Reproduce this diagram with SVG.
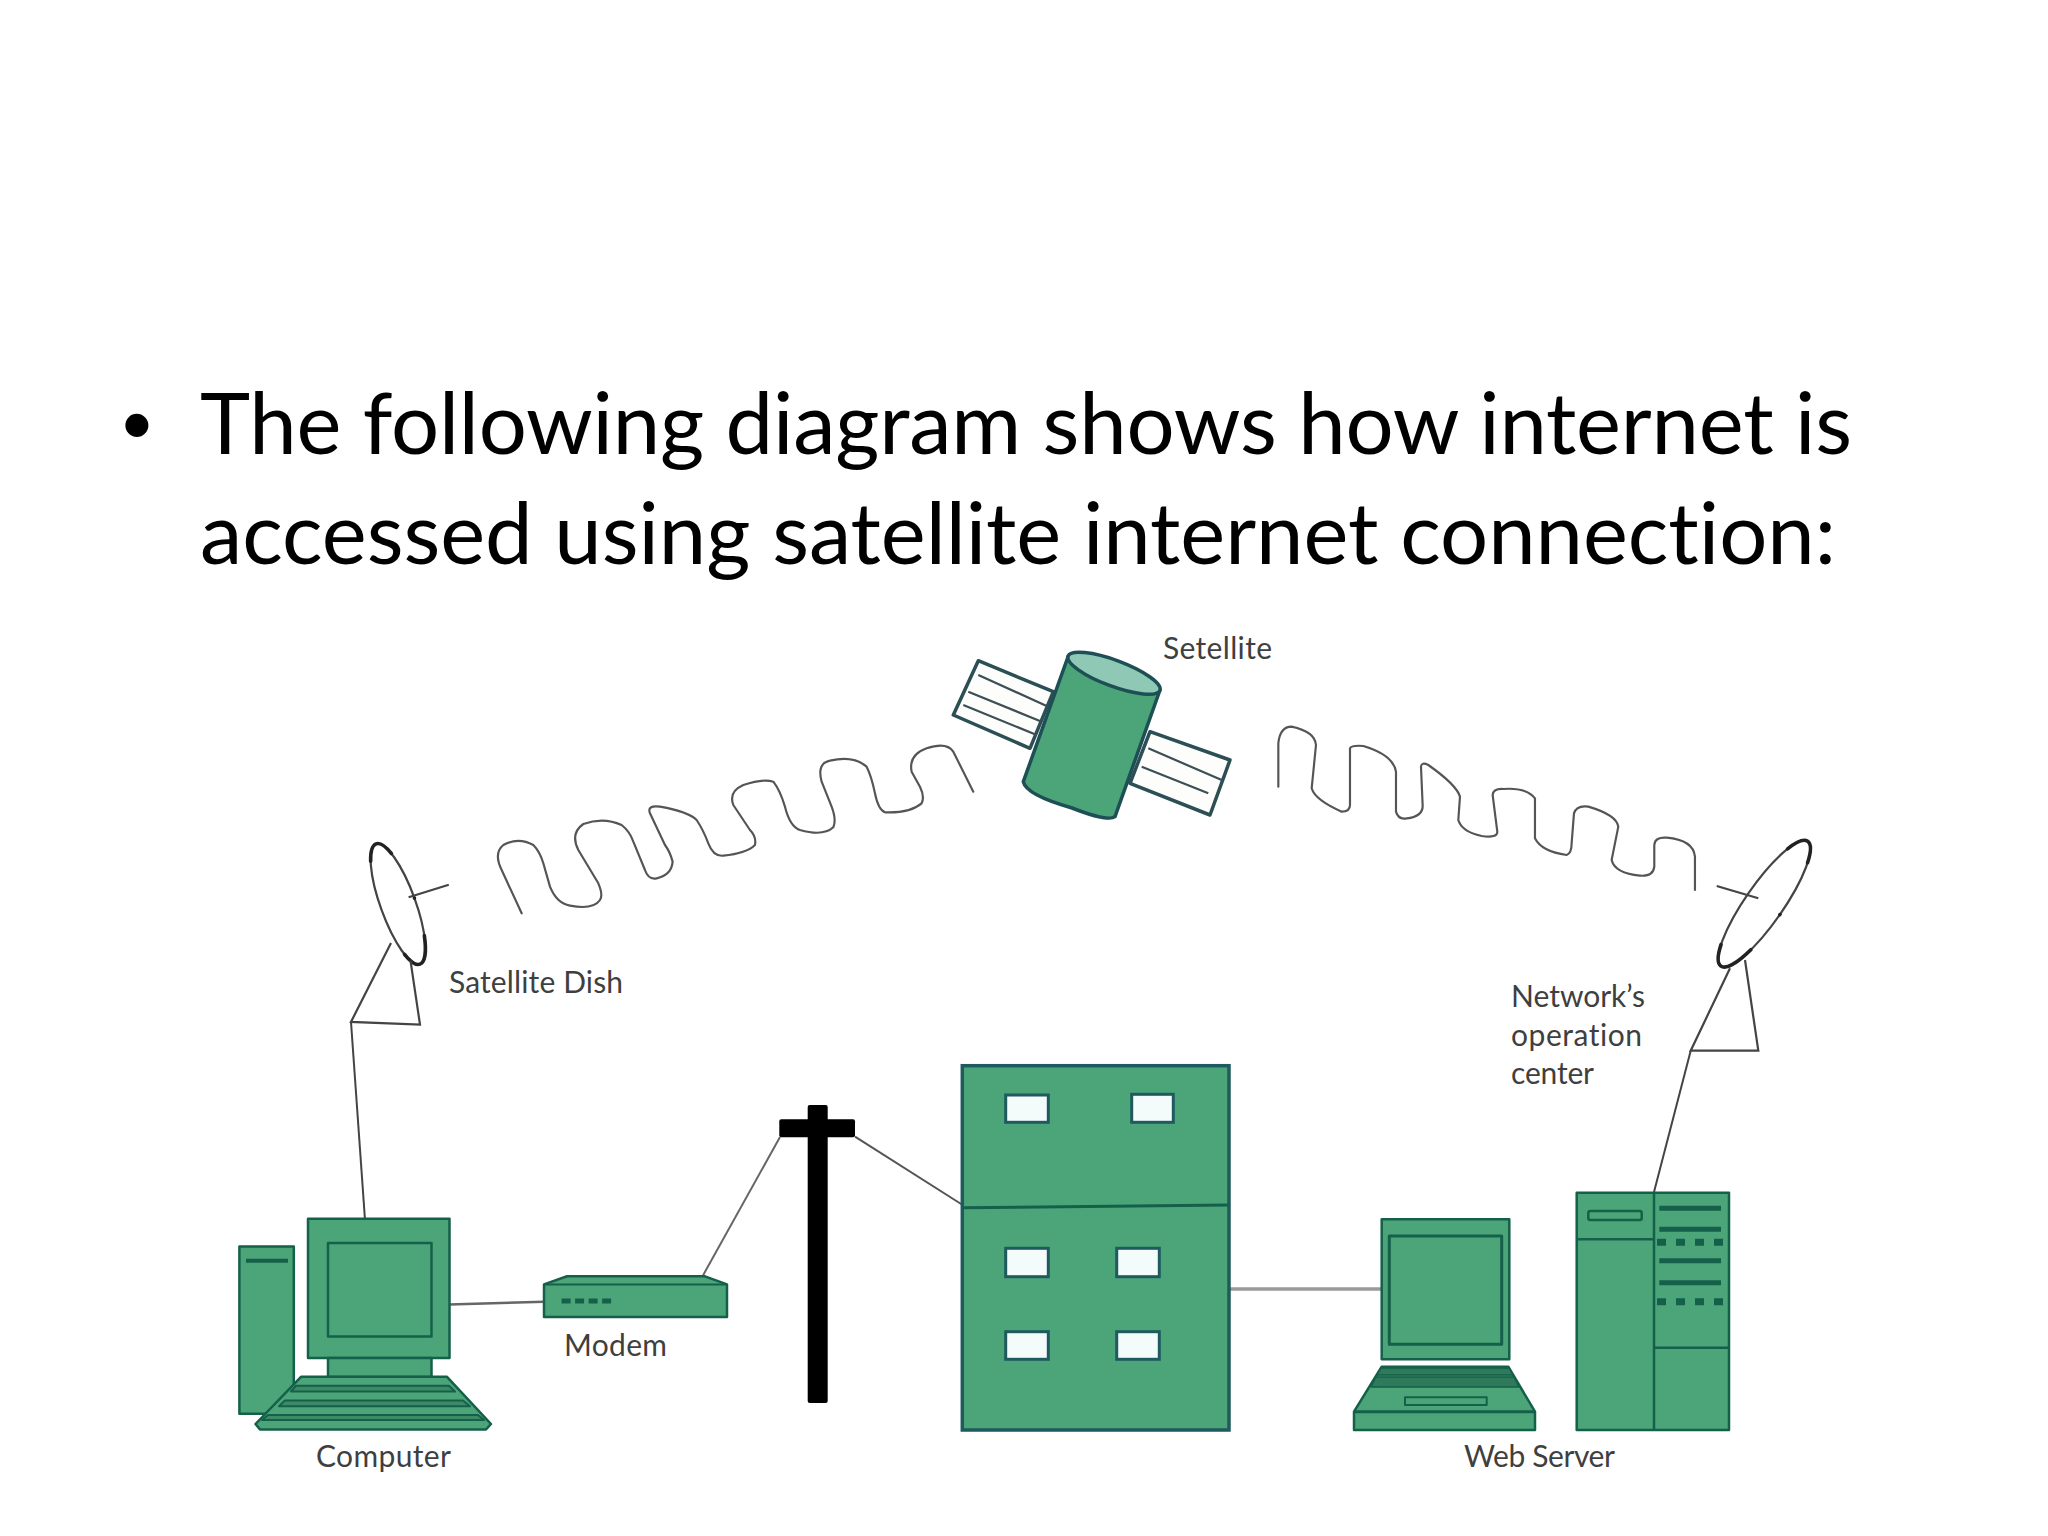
<svg xmlns="http://www.w3.org/2000/svg" width="2048" height="1536" viewBox="0 0 2048 1536">
<style>
text{font-variant-ligatures:none}
.h{font-family:Lato,"Liberation Sans",sans-serif;font-size:85px;fill:#000}
.b{font-family:"Liberation Sans",sans-serif;font-size:85px;fill:#000}
.l{font-family:Lato,"Liberation Sans",sans-serif;font-size:30px;fill:#3f3f3f}
.g{fill:#4ca578;stroke:#14604a;stroke-width:2.5;stroke-linejoin:round}
.bd{fill:#4ca578;stroke:#1f5a5f;stroke-width:3.5}
.win{fill:#f3fbfb;stroke:#1f5a5f;stroke-width:3}
.d{fill:none;stroke:#14604a;stroke-width:3}
.w{fill:none;stroke:#555;stroke-width:6.500;stroke-linejoin:round;stroke-linecap:round}
.c{fill:none;stroke:#444;stroke-width:2}
.dish{fill:none;stroke:#444;stroke-width:2.200}
.acc{fill:none;stroke:#222;stroke-width:3.600;stroke-dasharray:0 14 18 36 14 18;stroke-linecap:round}
.sat{stroke:#1e4f55;stroke-width:3.500;stroke-linejoin:round}
.pnl{fill:#fdfdfb;stroke:#2c4f55;stroke-width:3.500;stroke-linejoin:round}
.pl{fill:none;stroke:#3c4f55;stroke-width:2.200}
</style>
<rect width="2048" height="1536" fill="#fff"/>
<g id="heading">
<text class="b" x="122" y="454">•</text>
<text class="h" x="200" y="454" textLength="1652">The following diagram shows how internet is</text>
<text class="h" x="200" y="564" textLength="1636">accessed using satellite internet connection:</text>
</g>
<g id="connectors">
<path class="c" d="M351,1022L365,1220"/>
<path class="c" d="M449,1304.500L544,1301.800" style="stroke-width:2.500;stroke:#666"/>
<path class="c" d="M703,1275.400L780,1137" style="stroke:#666"/>
<path class="c" d="M855,1136.700L962.700,1205" style="stroke:#555"/>
<path d="M1229,1289H1382" fill="none" stroke="#999" stroke-width="3.500"/>
<path class="c" d="M1690.700,1050.700L1654,1192"/>
<path class="w" transform="translate(480,720) scale(0.3333)" d="M125,580L65,450Q40,400 70,375Q115,350 160,375Q180,395 190,430L210,500Q230,550 270,557Q340,570 360,540Q370,525 355,490L295,390Q270,340 310,312Q370,290 425,315Q450,335 460,365L495,450Q505,480 530,475Q575,465 578,425Q570,395 555,375L510,280Q500,255 540,260Q625,275 650,300Q670,330 685,370Q700,410 730,407Q800,400 825,375Q830,350 810,330L760,255Q745,215 790,195Q850,175 880,185Q900,210 915,260Q930,320 960,330Q1030,350 1060,322Q1070,300 1055,260L1025,185Q1010,130 1050,122Q1120,105 1160,140Q1175,170 1185,220Q1195,270 1215,277Q1290,280 1325,250Q1335,230 1320,200L1295,155Q1285,105 1340,85Q1400,65 1420,95L1480,215"/>
<path class="w" transform="translate(1260,710) scale(0.3333)" d="M55,230L55,100Q60,50 95,50Q165,65 168,105L155,235Q165,270 245,305Q270,305 270,285L270,115Q275,105 310,108Q400,135 408,185L408,305Q415,330 440,325Q490,320 488,285L483,170Q485,155 505,165Q590,225 600,260L595,330Q605,365 665,378Q712,385 712,365L698,255Q700,235 730,237Q800,232 825,265L825,385Q845,425 920,435Q935,430 935,400L942,310Q950,285 985,290Q1070,315 1075,350L1055,450Q1065,490 1140,497Q1180,500 1183,470L1183,405Q1185,380 1220,383Q1300,390 1305,440L1305,540"/>
</g>
<g id="satellite">
<polygon class="pnl" points="978.300,660.700 953.300,715 1030,748.300 1053.300,691.700"/>
<path class="pl" d="M978.300,675L1048.300,706.700M968.300,691.700L1041.700,721.700M963.300,705L1036.700,735"/>
<polygon class="pnl" points="1150,731.700 1230,760 1210,815 1130,783.300"/>
<path class="pl" d="M1148.300,748.300L1221.700,780M1141.700,766.700L1208.300,793.300"/>
<path class="sat" fill="#4ca578" d="M1068.300,656L1023.300,781.700Q1026,795 1072,808Q1108,822 1115,816.700L1160,690Z"/>
<ellipse class="sat" fill="#8fc9b5" cx="1114" cy="673.300" rx="49" ry="13" transform="rotate(20.400 1114 673.300)"/>
<text class="l" x="1163" y="659" textLength="109">Setellite</text>
</g>
<g id="dish-left">
<ellipse class="dish" cx="398" cy="904" rx="17.500" ry="64" transform="rotate(-20 398 904)"/>
<ellipse class="acc" pathLength="100" cx="398" cy="904" rx="17.500" ry="64" transform="rotate(-20 398 904)"/>
<path class="dish" d="M408.600,897.300L448.800,884.800M391,942.900L351,1021.900L420,1024.600L410.500,960.700"/>
<text class="l" x="449" y="993" textLength="174">Satellite Dish</text>
</g>
<g id="dish-right">
<ellipse class="dish" cx="1764.300" cy="903.700" rx="19" ry="76" transform="rotate(34.800 1764.300 903.700)"/>
<ellipse class="acc" pathLength="100" cx="1764.300" cy="903.700" rx="19" ry="76" transform="rotate(34.800 1764.300 903.700)"/>
<path class="dish" d="M1716.700,886L1758.300,898.300M1730,968.300L1690.700,1050.700H1758.300L1745,960"/>
<text class="l" x="1511" y="1007" textLength="134">Network’s</text>
<text class="l" x="1511" y="1046" textLength="131">operation</text>
<text class="l" x="1511" y="1084" textLength="83">center</text>
</g>
<g id="computer">
<rect class="g" x="239.400" y="1246.400" width="54.400" height="167.400"/>
<path d="M246,1260.700H288" class="d" style="stroke-width:4"/>
<rect class="g" x="308" y="1218.700" width="141.500" height="139.300"/>
<rect class="g" x="328" y="1242.900" width="103.500" height="93.700"/>
<rect class="g" x="328" y="1358" width="103.500" height="19"/>
<polygon class="g" points="301,1376.800 447,1376.800 491,1424 486,1429.500 260,1429.500 255.500,1424"/>
<path class="g" style="stroke-width:2;fill:#3c8a66" d="M296,1385.700H449L455,1391.500H291ZM285,1400.400H463L470,1406.300H279ZM268,1415H478L484,1420H262Z"/>
<text class="l" x="316" y="1467" textLength="135">Computer</text>
</g>
<g id="modem">
<polygon class="g" points="567,1276.300 705,1276.300 727,1284.400 727,1317 544,1317 544,1284.400"/>
<path d="M544,1284.400H727" class="d" style="stroke-width:2"/>
<path d="M561.600,1300.900H613" fill="none" stroke="#14604a" stroke-width="5" stroke-dasharray="9 4.500"/>
<text class="l" x="564" y="1356" textLength="103">Modem</text>
</g>
<g id="pole">
<rect x="807.700" y="1105" width="20" height="298" rx="2" fill="#000"/>
<rect x="779.300" y="1119.300" width="75.700" height="18" rx="2" fill="#000"/>
</g>
<g id="network-center">
<rect class="bd" x="962.300" y="1065.700" width="266.700" height="364.300"/>
<path d="M962.300,1207.700L1229,1205" fill="none" stroke="#14604a" stroke-width="3"/>
<rect class="win" x="1005.700" y="1095" width="42.600" height="27.300"/>
<rect class="win" x="1131.700" y="1094.300" width="41.600" height="28"/>
<rect class="win" x="1005.700" y="1248.300" width="42.600" height="28.400"/>
<rect class="win" x="1116.700" y="1248.300" width="42.600" height="28.400"/>
<rect class="win" x="1005.700" y="1331.700" width="42.600" height="27.600"/>
<rect class="win" x="1116.700" y="1331.700" width="42.600" height="27.600"/>
</g>
<g id="laptop">
<rect class="g" x="1381.700" y="1219.300" width="127.600" height="140"/>
<rect class="g" x="1389.300" y="1236" width="112.400" height="108.300" style="stroke-width:3"/>
<polygon class="g" points="1381.700,1366.700 1508.300,1366.700 1535,1411.700 1535,1430 1354,1430 1354,1411.700"/>
<path d="M1354,1411.700H1535" class="d"/>
<path class="g" style="stroke-width:1.500;fill:#2f7a5a" d="M1381,1368H1509L1513,1375H1377ZM1376,1377H1514L1519,1387H1371Z"/>
<rect class="g" x="1405" y="1397.300" width="81.700" height="7.700" style="stroke-width:2"/>
</g>
<g id="web-server">
<rect class="g" x="1576.700" y="1192.700" width="152.300" height="237.300"/>
<path class="d" d="M1654,1192.700V1430M1576.700,1239.300H1654M1654,1347.700H1729" style="stroke-width:2.500"/>
<rect class="g" x="1588.300" y="1211" width="53.400" height="9" rx="2" style="stroke-width:2.500"/>
<path d="M1659.300,1208.300H1721M1659.300,1229.300H1721M1659.300,1260.700H1721M1659.300,1282.700H1721" fill="none" stroke="#14604a" stroke-width="5"/>
<path d="M1657,1242.300H1726M1657,1301.700H1726" fill="none" stroke="#14604a" stroke-width="7" stroke-dasharray="9 10"/>
<text class="l" x="1464" y="1467" textLength="151">Web Server</text>
</g>
</svg>
